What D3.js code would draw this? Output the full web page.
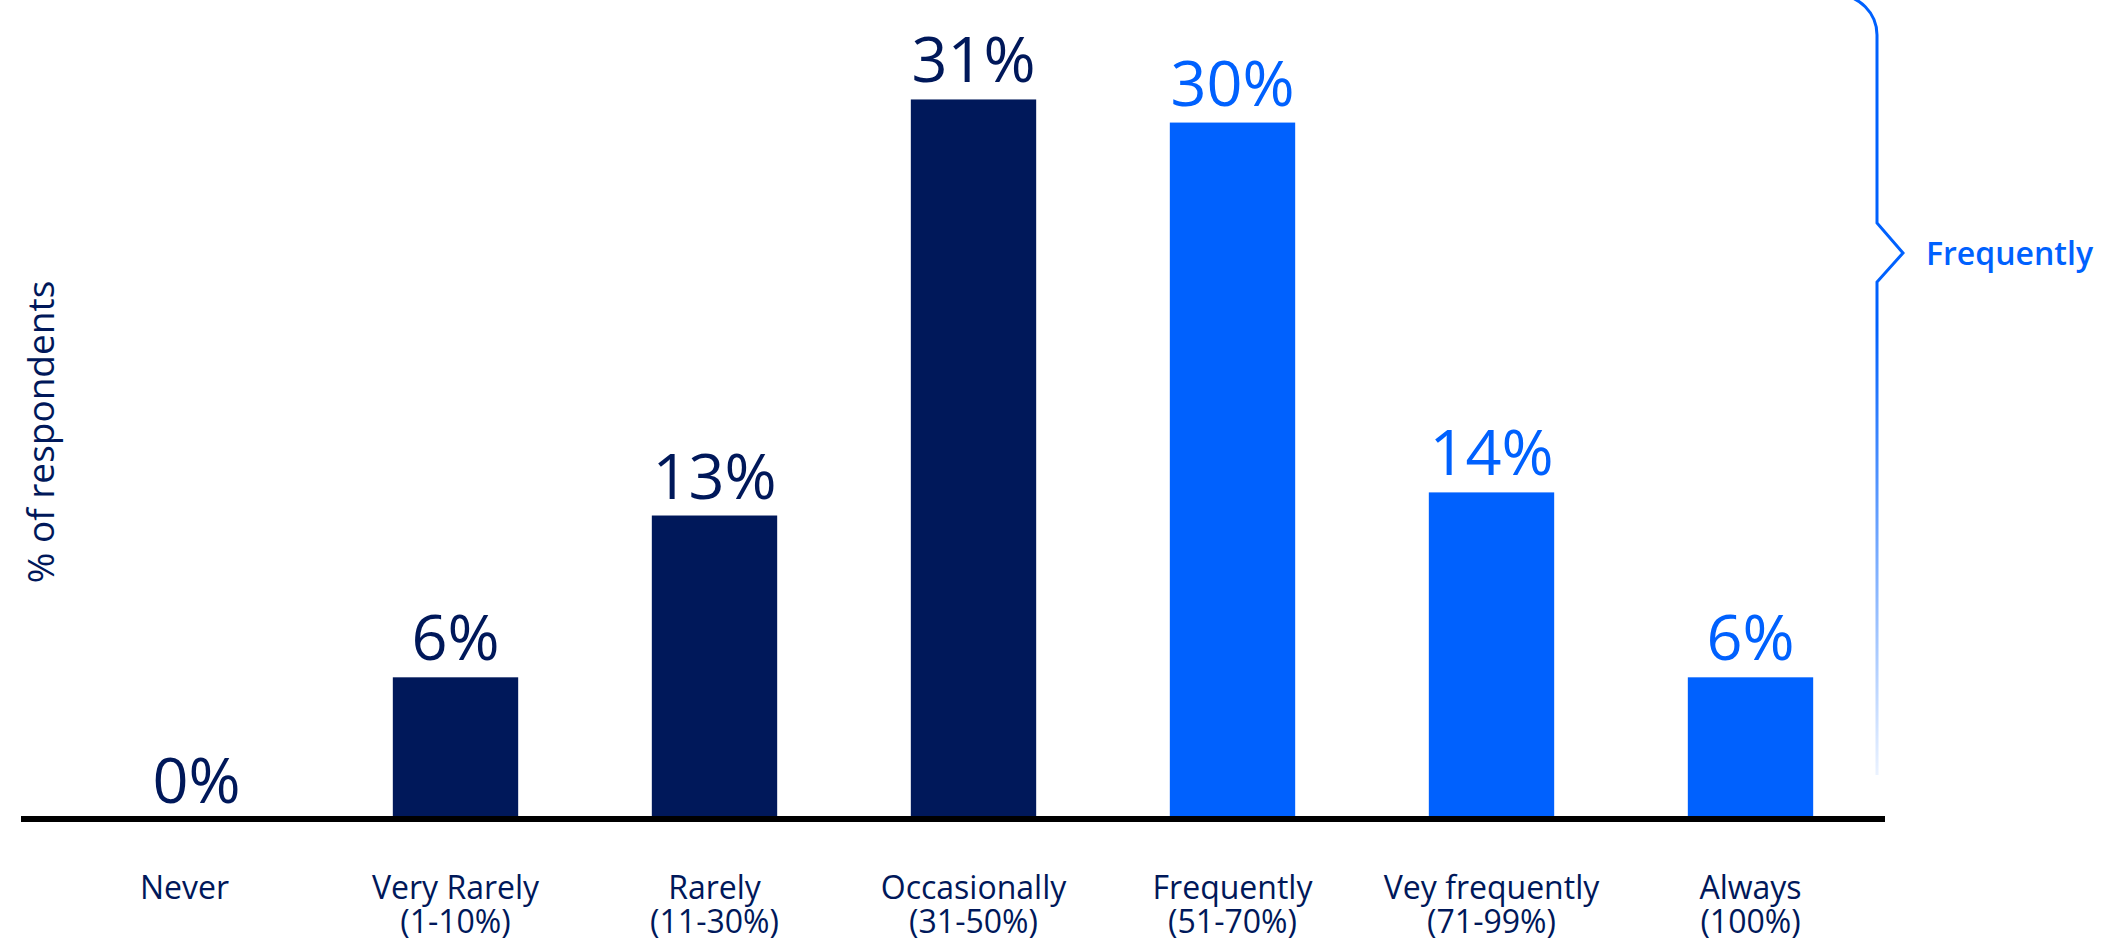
<!DOCTYPE html>
<html>
<head>
<meta charset="utf-8">
<script src="https://cdn.jsdelivr.net/npm/d3@7"></script>
<style>
  html, body { margin: 0; padding: 0; background: #ffffff; }
  svg { display: block; font-family: "Open Sans", "Noto Sans", sans-serif; }
</style>
</head>
<body>
<svg id="chart" width="2112" height="940"></svg>
<script>
// Share of respondents by how often they do it
const categories = ["Never", "Very Rarely", "Rarely", "Occasionally", "Frequently", "Vey frequently", "Always"];
const rangeLabels = ["", "(1-10%)", "(11-30%)", "(31-50%)", "(51-70%)", "(71-99%)", "(100%)"];
const values = [0, 6, 13, 31, 30, 14, 6];
// which bars belong to the "Frequently" group
const groups = ["low", "low", "low", "low", "high", "high", "high"];
const groupLabel = "Frequently";
const axisTitle = "% of respondents";

const navy = "#00185a";
const blue = "#0061fe";

const svg = d3.select("#chart");
const baseY = 816;

const x = d3.scaleBand()
  .domain(categories)
  .range([67, 1880])
  .paddingInner(0.516)
  .paddingOuter(0.258);

const y = d3.scaleLinear()
  .domain([0, 35])
  .range([baseY, 7]);

const color = d3.scaleOrdinal().domain(["low", "high"]).range([navy, blue]);

const data = categories.map((c, i) => ({ c, sub: rangeLabels[i], v: values[i], g: groups[i] }));
const cx = d => x(d.c) + x.bandwidth() / 2;

// bars
svg.append("g").selectAll("rect")
  .data(data)
  .join("rect")
  .attr("x", d => x(d.c))
  .attr("y", d => y(d.v))
  .attr("width", x.bandwidth())
  .attr("height", d => y(0) - y(d.v))
  .attr("fill", d => color(d.g));

// value labels
svg.append("g").selectAll("text")
  .data(data)
  .join("text")
  .attr("x", cx)
  .attr("y", d => y(d.v) - (d.v === 0 ? 13 : 17))
  .attr("text-anchor", "middle")
  .attr("font-size", 63)
  .attr("fill", d => color(d.g))
  .text(d => d.v + "%");

// baseline
svg.append("line")
  .attr("x1", 21).attr("x2", 1885)
  .attr("y1", baseY + 3).attr("y2", baseY + 3)
  .attr("stroke", "#000").attr("stroke-width", 6);

// category labels (name + range on second line); a single-line name sits a little left
const cat = svg.append("g").selectAll("text")
  .data(data)
  .join("text")
  .attr("text-anchor", "middle")
  .attr("font-size", 32)
  .attr("fill", navy);
cat.append("tspan")
  .attr("x", d => cx(d) - (d.sub ? 0 : 12))
  .attr("y", 899)
  .text(d => d.c);
cat.append("tspan")
  .attr("x", cx)
  .attr("y", 933)
  .text(d => d.sub);

// y axis title
svg.append("text")
  .attr("transform", "translate(54,432) rotate(-90)")
  .attr("text-anchor", "middle")
  .attr("font-size", 37)
  .attr("fill", navy)
  .text(axisTitle);

// bracket marking the "Frequently" group, fading out towards the baseline
const defs = svg.append("defs");
const grad = defs.append("linearGradient")
  .attr("id", "braceFade")
  .attr("gradientUnits", "userSpaceOnUse")
  .attr("x1", 0).attr("y1", 0).attr("x2", 0).attr("y2", 775);
grad.append("stop").attr("offset", 0).attr("stop-color", blue).attr("stop-opacity", 1);
grad.append("stop").attr("offset", 0.42).attr("stop-color", blue).attr("stop-opacity", 1);
grad.append("stop").attr("offset", 1).attr("stop-color", blue).attr("stop-opacity", 0.08);

const bx = 1877, tipX = 1903, tipY = 253;
const p = d3.path();
p.moveTo(bx - 40, -5);
p.arcTo(bx, -5, bx, 35, 40);
p.lineTo(bx, tipY - 30);
p.lineTo(tipX, tipY);
p.lineTo(bx, tipY + 29);
p.lineTo(bx, 775);
svg.append("path")
  .attr("d", p.toString())
  .attr("fill", "none")
  .attr("stroke", "url(#braceFade)")
  .attr("stroke-width", 3);

svg.append("text")
  .attr("x", 1926)
  .attr("y", tipY + 12)
  .attr("font-size", 32)
  .attr("font-weight", 600)
  .attr("fill", blue)
  .text(groupLabel);
</script>
</body>
</html>
